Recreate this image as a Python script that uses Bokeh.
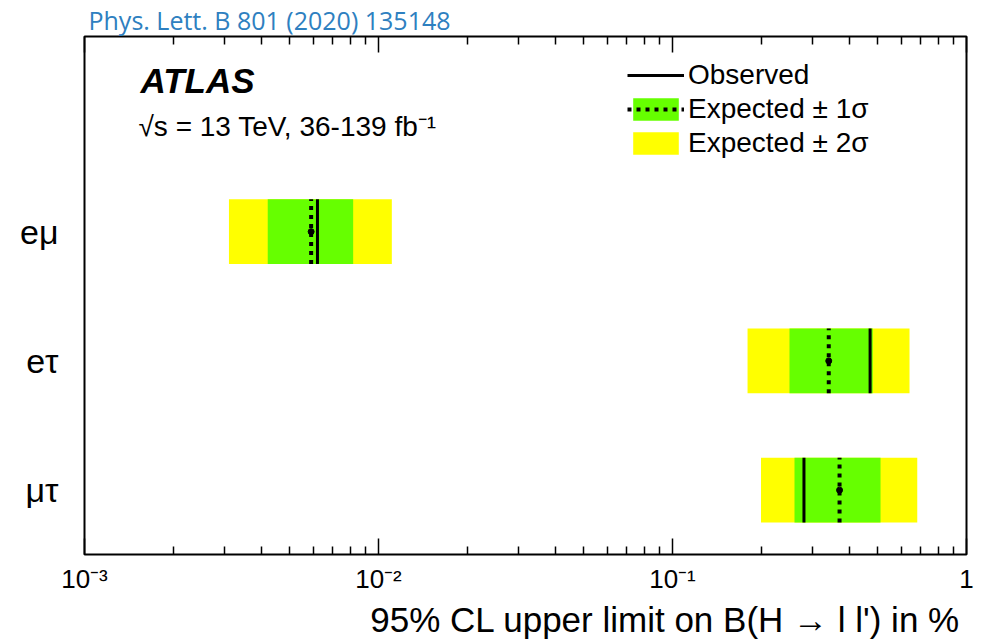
from bokeh.plotting import figure
from bokeh.models import (Range1d, LogAxis, FixedTicker, Label, Legend, LegendItem,
                          ColumnDataSource, Title)
from bokeh.embed import file_html
from bokeh.resources import INLINE

# ---------------- data ----------------
channels = ["eμ", "eτ", "μτ"]
observed = [0.0062, 0.47, 0.28]
expected = [0.0059, 0.34, 0.37]
exp_minus1 = [0.0042, 0.25, 0.26]
exp_plus1 = [0.0082, 0.48, 0.51]
exp_minus2 = [0.0031, 0.18, 0.20]
exp_plus2 = [0.0111, 0.64, 0.68]
x_ticks = [0.001, 0.01, 0.1, 1.0]
x_tick_labels = ["10⁻³", "10⁻²", "10⁻¹", "1"]

# ---------------- layout ----------------
W, H = 981, 641
BL, BR, BT, BB = 84, 15, 35, 87
FW, FH = W - BL - BR, H - BT - BB
Y0, Y1 = 0.502, 4.51
PX = (Y1 - Y0) / FH          # data units per pixel (y)
FONT = "Liberation Sans"

rows = [len(channels) - i for i in range(len(channels))]
half = 0.25
src = ColumnDataSource(dict(
    y=rows, lo=[r - half for r in rows], hi=[r + half for r in rows],
    obs=observed, exp=expected, m1=exp_minus1, p1=exp_plus1,
    m2=exp_minus2, p2=exp_plus2))

p = figure(width=W, height=H, x_axis_type="log",
           x_range=Range1d(x_ticks[0], x_ticks[-1]), y_range=Range1d(Y0, Y1),
           output_backend="svg", toolbar_location=None,
           min_border_left=BL, min_border_right=BR, min_border_top=BT,
           min_border_bottom=BB)
p.xgrid.visible = False
p.ygrid.visible = False
p.outline_line_color = "black"
p.outline_line_width = 2
p.background_fill_color = "white"
p.border_fill_color = "white"

r2 = p.hbar(y="y", left="m2", right="p2", height=2 * half, source=src,
            fill_color="#ffff00", line_color=None)
r1 = p.hbar(y="y", left="m1", right="p1", height=2 * half, source=src,
            fill_color="#66ff00", line_color=None)
re = p.segment(x0="exp", y0="lo", x1="exp", y1="hi", source=src,
               line_color="black", line_width=4, line_dash="4 5")
p.scatter(x="exp", y="y", source=src, size=6, color="black")
ro = p.segment(x0="obs", y0="lo", x1="obs", y1="hi", source=src,
               line_color="black", line_width=3)

minor = [k * t for t in x_ticks[:-1] for k in range(2, 10)]
ticker = FixedTicker(ticks=x_ticks, minor_ticks=minor)

xa = p.xaxis[0]
xa.ticker = ticker
xa.major_label_overrides = {t: l for t, l in zip(x_ticks, x_tick_labels)}
xa.major_label_text_font = FONT
xa.major_label_text_font_size = "26px"
xa.major_label_text_color = "black"
xa.major_label_standoff = 9
xa.axis_line_color = None
xa.major_tick_in = 16
xa.major_tick_out = 0
xa.minor_tick_in = 8
xa.minor_tick_out = 0
xa.major_tick_line_color = "black"
xa.minor_tick_line_color = "black"
xa.major_tick_line_width = 1.5
xa.minor_tick_line_width = 1.5

top = LogAxis(ticker=ticker, axis_line_color=None, major_tick_in=16,
              major_tick_out=0, minor_tick_in=8, minor_tick_out=0,
              major_tick_line_width=1.5, minor_tick_line_width=1.5,
              major_label_text_color=None, major_label_standoff=0,
              major_label_text_font_size="1px")
p.add_layout(top, "above")

ya = p.yaxis[0]
ya.ticker = FixedTicker(ticks=rows, minor_ticks=[])
ya.major_label_overrides = {r: c for r, c in zip(rows, channels)}
ya.major_label_text_font = FONT
ya.major_label_text_font_size = "34px"
ya.major_label_text_color = "black"
ya.major_label_standoff = 20
ya.axis_line_color = None
ya.major_tick_line_color = None
ya.minor_tick_line_color = None

# ---------------- texts ----------------
p.title = Title(text="Phys. Lett. B 801 (2020) 135148", align="left",
                offset=4, standoff=0, text_font="Open Sans",
                text_font_size="25px", text_font_style="normal",
                text_color="#2e80c0", text_line_height=1.0)
p.add_layout(Title(text="95% CL upper limit on B(H → l l') in %",
                   align="right", standoff=2, offset=6, text_font=FONT,
                   text_font_size="35px", text_font_style="normal",
                   text_color="black", text_line_height=1.0), "below")

p.add_layout(Label(x=x_ticks[0], y=Y1 - 44 * PX, x_offset=56, text="ATLAS",
                   text_font=FONT, text_font_style="bold italic",
                   text_font_size="35px", text_color="black",
                   text_baseline="alphabetic"))
p.add_layout(Label(x=x_ticks[0], y=Y1 - 90 * PX, x_offset=54,
                   text="√s = 13 TeV, 36-139 fb⁻¹",
                   text_font=FONT, text_font_size="28px", text_color="black",
                   text_baseline="alphabetic"))

legend = Legend(items=[
    LegendItem(label="Observed", renderers=[ro]),
    LegendItem(label="Expected ± 1σ", renderers=[r1, re]),
    LegendItem(label="Expected ± 2σ", renderers=[r2]),
], location=(543, 395), padding=0, margin=0, spacing=2,
    glyph_width=57, glyph_height=28, label_height=28, label_standoff=4,
    label_text_font=FONT, label_text_font_size="28px",
    label_text_color="black", label_text_baseline="middle",
    border_line_color=None, background_fill_alpha=0)
p.add_layout(legend, "center")

open("out.html", "w").write(file_html(p, INLINE))
